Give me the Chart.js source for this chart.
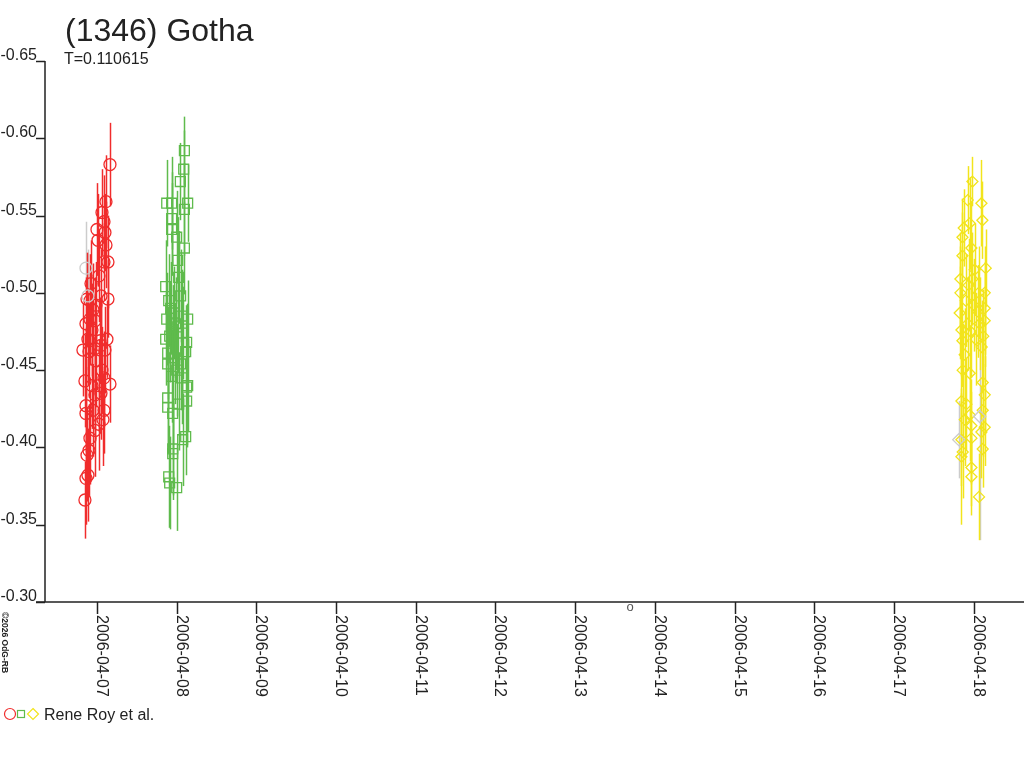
<!DOCTYPE html>
<html>
<head>
<meta charset="utf-8">
<title>(1346) Gotha</title>
<script src="https://cdn.jsdelivr.net/npm/chart.js@4.4.1/dist/chart.umd.min.js"></script>
<style>
  html, body { margin: 0; padding: 0; background: #fff; }
  #wrap { width: 1024px; height: 768px; }
</style>
</head>
<body>
<div id="wrap"><canvas id="chart" width="1024" height="768"></canvas></div>
<script>
// time in days after 2006-04-07 00:00 UT, reduced magnitude, error
const redDays = [0.163, 0.113, 0.063, 0.088, 0.000, 0.100, 0.013, 0.113, 0.138, 0.088, 0.025, -0.075, 0.050, 0.138,
  -0.088, -0.013, -0.125, -0.050, -0.088, -0.025, -0.138, -0.063, -0.113, 0.125, 0.038, 0.050, -0.025, 0.100,
  -0.176, -0.100, -0.013, 0.063, 0.088, -0.151, -0.063, 0.163, 0.025, 0.050, -0.025, -0.138, -0.050, 0.088,
  0.075, 0.025, -0.025, -0.138, -0.088, -0.100, -0.113, -0.138, -0.151, -0.125];
const redMags = [-0.583, -0.559, -0.552, -0.546, -0.541, -0.539, -0.534, -0.531, -0.520, -0.520, -0.511, -0.506, -0.498, -0.496,
  -0.495, -0.492, -0.496, -0.489, -0.483, -0.482, -0.480, -0.476, -0.470, -0.470, -0.469, -0.466, -0.464, -0.463,
  -0.463, -0.462, -0.456, -0.450, -0.445, -0.443, -0.440, -0.441, -0.440, -0.435, -0.434, -0.427, -0.424, -0.424,
  -0.418, -0.415, -0.411, -0.422, -0.406, -0.398, -0.382, -0.380, -0.366, -0.395];
const redErrs = [0.027, 0.030, 0.028, 0.030, 0.030, 0.025, 0.030, 0.028, 0.030, 0.025, 0.030, 0.028, 0.030, 0.025,
  0.030, 0.028, 0.030, 0.030, 0.030, 0.028, 0.030, 0.030, 0.030, 0.025, 0.028, 0.030, 0.030, 0.028,
  0.030, 0.030, 0.030, 0.028, 0.030, 0.030, 0.028, 0.025, 0.030, 0.030, 0.030, 0.030, 0.030, 0.028,
  0.030, 0.030, 0.030, 0.030, 0.030, 0.030, 0.030, 0.030, 0.025, 0.030];

const greenDays = [1.097, 1.088, 1.046, 0.875, 0.937, 1.138, 1.097, 0.937, 0.937, 1.000, 1.097, 1.013, 1.025, 0.862,
  1.050, 0.875, 1.138, 0.900, 0.925, 0.962, 0.987, 1.013, 1.062, 0.950, 1.075, 0.912, 0.862, 1.125, 0.887,
  1.113, 0.887, 1.050, 0.975, 1.000, 0.937, 1.138, 0.887, 1.125, 0.887, 0.950, 1.025, 1.113, 1.075, 0.950,
  0.950, 0.900, 0.912, 1.000, 1.125, 1.062];
const greenMags = [-0.592, -0.580, -0.572, -0.558, -0.558, -0.558, -0.554, -0.548, -0.541, -0.536, -0.529, -0.521, -0.510, -0.504,
  -0.498, -0.483, -0.483, -0.495, -0.490, -0.487, -0.480, -0.478, -0.485, -0.475, -0.474, -0.472, -0.470, -0.468, -0.461,
  -0.462, -0.454, -0.454, -0.458, -0.450, -0.446, -0.440, -0.432, -0.430, -0.426, -0.422, -0.428, -0.407, -0.405, -0.399,
  -0.396, -0.381, -0.377, -0.374, -0.439, -0.445];
const greenErrs = [0.022, 0.025, 0.025, 0.028, 0.030, 0.025, 0.030, 0.030, 0.030, 0.030, 0.030, 0.028, 0.030, 0.030,
  0.030, 0.030, 0.025, 0.030, 0.030, 0.030, 0.030, 0.030, 0.030, 0.030, 0.030, 0.030, 0.030, 0.025, 0.030,
  0.030, 0.030, 0.030, 0.030, 0.030, 0.030, 0.030, 0.030, 0.030, 0.030, 0.030, 0.030, 0.025, 0.030, 0.030,
  0.030, 0.033, 0.030, 0.028, 0.030, 0.030];

const yellowDays = [10.984, 10.925, 11.097, 11.109, 10.875, 10.950, 10.859, 10.859, 10.971, 11.151, 10.833, 10.984, 10.833, 11.138,
  10.824, 11.138, 11.138, 10.846, 10.925, 10.859, 10.900, 11.000, 11.050, 11.075, 10.962, 11.025, 11.100, 10.887,
  11.062, 11.120, 10.937, 11.012, 10.862, 10.950, 11.113, 11.138, 10.846, 10.908, 11.113, 10.950, 10.887, 10.971,
  11.138, 11.097, 10.846, 10.971, 11.113, 10.862, 10.846, 10.971, 10.971, 11.067];
const yellowMags = [-0.572, -0.560, -0.558, -0.547, -0.542, -0.545, -0.536, -0.524, -0.529, -0.516, -0.509, -0.509, -0.500, -0.500,
  -0.487, -0.490, -0.482, -0.476, -0.480, -0.469, -0.495, -0.492, -0.488, -0.480, -0.475, -0.470, -0.465, -0.460,
  -0.500, -0.472, -0.505, -0.515, -0.450, -0.448, -0.442, -0.434, -0.430, -0.428, -0.424, -0.421, -0.418, -0.414,
  -0.413, -0.410, -0.405, -0.406, -0.399, -0.397, -0.394, -0.387, -0.381, -0.368];
const yellowErrs = [0.016, 0.022, 0.028, 0.025, 0.025, 0.030, 0.025, 0.028, 0.030, 0.025, 0.030, 0.030, 0.030, 0.030,
  0.030, 0.030, 0.030, 0.030, 0.030, 0.030, 0.030, 0.030, 0.030, 0.030, 0.030, 0.030, 0.030, 0.030,
  0.030, 0.030, 0.030, 0.030, 0.030, 0.030, 0.030, 0.025, 0.030, 0.030, 0.030, 0.030, 0.030, 0.030,
  0.025, 0.030, 0.030, 0.030, 0.025, 0.030, 0.044, 0.025, 0.025, 0.028];

const grayDays = [-0.138, -0.113, 10.812, 11.075];
const grayMags = [-0.516, -0.498, -0.405, -0.420];
const grayErrs = [0.030, 0.030, 0.025, 0.080];
const grayStyles = ['circle', 'circle', 'rectRot', 'rectRot'];

const dayTicks = [0, 1, 2, 3, 4, 5, 6, 7, 8, 9, 10, 11];
const magTicks = [-0.65, -0.60, -0.55, -0.50, -0.45, -0.40, -0.35, -0.30];
const markDay = 6.69; // small "o" just under the axis

const titleText = '(1346) Gotha';
const periodText = 'T=0.110615';
const legendText = 'Rene Roy et al.';
const creditText = '\u00A92026 OdG-RB';

const RED = '#f02c2c';
const GREEN = '#5fbb4c';
const YELLOW = '#f2e41c';
const GRAY = '#cccccc';
const INK = '#222222';
const FONT = '"Liberation Sans", Arial, sans-serif';

function toPoints(days, mags, errs) {
  return days.map((d, i) => ({ x: d, y: mags[i], err: errs[i] }));
}

function dayLabel(v) {
  const d = new Date(Date.UTC(2006, 3, 7 + v));
  return d.toISOString().slice(0, 10);
}

// vertical error bars, drawn under the markers
const errorBars = {
  id: 'errorBars',
  beforeDatasetsDraw(chart) {
    const { ctx, scales: { x, y } } = chart;
    ctx.save();
    ctx.lineWidth = 1.5;
    chart.data.datasets.forEach(ds => {
      ctx.strokeStyle = ds.borderColor;
      ds.data.forEach(p => {
        const px = Math.round(x.getPixelForValue(p.x)) + 0.5;
        ctx.beginPath();
        ctx.moveTo(px, y.getPixelForValue(p.y - p.err));
        ctx.lineTo(px, y.getPixelForValue(p.y + p.err));
        ctx.stroke();
      });
    });
    ctx.restore();
  }
};

// axes, labels, title and legend in the style of the original plot
const frame = {
  id: 'frame',
  afterDraw(chart) {
    const { ctx, chartArea: a, scales: { x, y } } = chart;
    ctx.save();
    ctx.strokeStyle = INK;
    ctx.fillStyle = INK;
    ctx.lineWidth = 1.5;

    ctx.beginPath();
    ctx.moveTo(a.left, a.top);
    ctx.lineTo(a.left, a.bottom);
    ctx.moveTo(a.left - 9, a.bottom);
    ctx.lineTo(a.right, a.bottom);
    ctx.stroke();

    ctx.font = '16px ' + FONT;
    ctx.textAlign = 'right';
    ctx.textBaseline = 'alphabetic';
    magTicks.forEach(v => {
      const py = Math.round(y.getPixelForValue(v)) + 0.5;
      ctx.beginPath();
      ctx.moveTo(a.left - 9, py);
      ctx.lineTo(a.left, py);
      ctx.stroke();
      ctx.fillText(v.toFixed(2), a.left - 8, py - 2);
    });

    ctx.textAlign = 'left';
    dayTicks.forEach(v => {
      const px = Math.round(x.getPixelForValue(v)) + 0.5;
      ctx.beginPath();
      ctx.moveTo(px, a.bottom);
      ctx.lineTo(px, a.bottom + 12);
      ctx.stroke();
      ctx.save();
      ctx.translate(px - 1, a.bottom + 13);
      ctx.rotate(Math.PI / 2);
      ctx.fillText(dayLabel(v), 0, 0);
      ctx.restore();
    });

    ctx.fillStyle = '#555';
    ctx.font = '13px ' + FONT;
    ctx.textAlign = 'center';
    ctx.fillText('o', x.getPixelForValue(markDay), a.bottom + 9);

    ctx.fillStyle = INK;
    ctx.textAlign = 'left';
    ctx.font = '32px ' + FONT;
    ctx.fillText(titleText, 65, 41);
    ctx.font = '16px ' + FONT;
    ctx.fillText(periodText, 64, 64);

    ctx.save();
    ctx.font = 'bold 8.5px ' + FONT;
    ctx.translate(2, 612);
    ctx.rotate(Math.PI / 2);
    ctx.fillText(creditText, 0, 0);
    ctx.restore();

    // legend symbols
    ctx.lineWidth = 1.2;
    ctx.strokeStyle = RED;
    ctx.beginPath();
    ctx.arc(10, 714, 5.5, 0, Math.PI * 2);
    ctx.stroke();
    ctx.strokeStyle = GREEN;
    ctx.strokeRect(17.5, 710.5, 7, 7);
    ctx.strokeStyle = YELLOW;
    ctx.beginPath();
    ctx.moveTo(33, 708.5);
    ctx.lineTo(38.5, 714);
    ctx.lineTo(33, 719.5);
    ctx.lineTo(27.5, 714);
    ctx.closePath();
    ctx.stroke();
    ctx.fillStyle = INK;
    ctx.font = '16px ' + FONT;
    ctx.fillText(legendText, 44, 720);
    ctx.restore();
  }
};

const marker = (label, data, color, style, radius) => ({
  label: label,
  data: data,
  borderColor: color,
  backgroundColor: 'rgba(0,0,0,0)',
  pointStyle: style,
  pointRadius: radius,
  pointBorderWidth: 1.3,
  showLine: false
});

const ctx = document.getElementById('chart').getContext('2d');
new Chart(ctx, {
  type: 'scatter',
  data: {
    datasets: [
      marker('gray', toPoints(grayDays, grayMags, grayErrs), GRAY, grayStyles, 6),
      marker(legendText, toPoints(redDays, redMags, redErrs), RED, 'circle', 6),
      marker(legendText, toPoints(greenDays, greenMags, greenErrs), GREEN, 'rect', 7),
      marker(legendText, toPoints(yellowDays, yellowMags, yellowErrs), YELLOW, 'rectRot', 5.5)
    ]
  },
  options: {
    responsive: false,
    animation: false,
    layout: { autoPadding: false, padding: { left: 45, top: 61, right: 0, bottom: 166 } },
    plugins: { legend: { display: false }, tooltip: { enabled: false } },
    scales: {
      x: {
        type: 'linear',
        display: false,
        min: -0.652,
        max: 11.631,
        ticks: { stepSize: 1, includeBounds: false }
      },
      y: {
        type: 'linear',
        display: false,
        reverse: true,
        min: -0.65,
        max: -0.30,
        ticks: { stepSize: 0.05 }
      }
    }
  },
  plugins: [errorBars, frame]
});
</script>
</body>
</html>
